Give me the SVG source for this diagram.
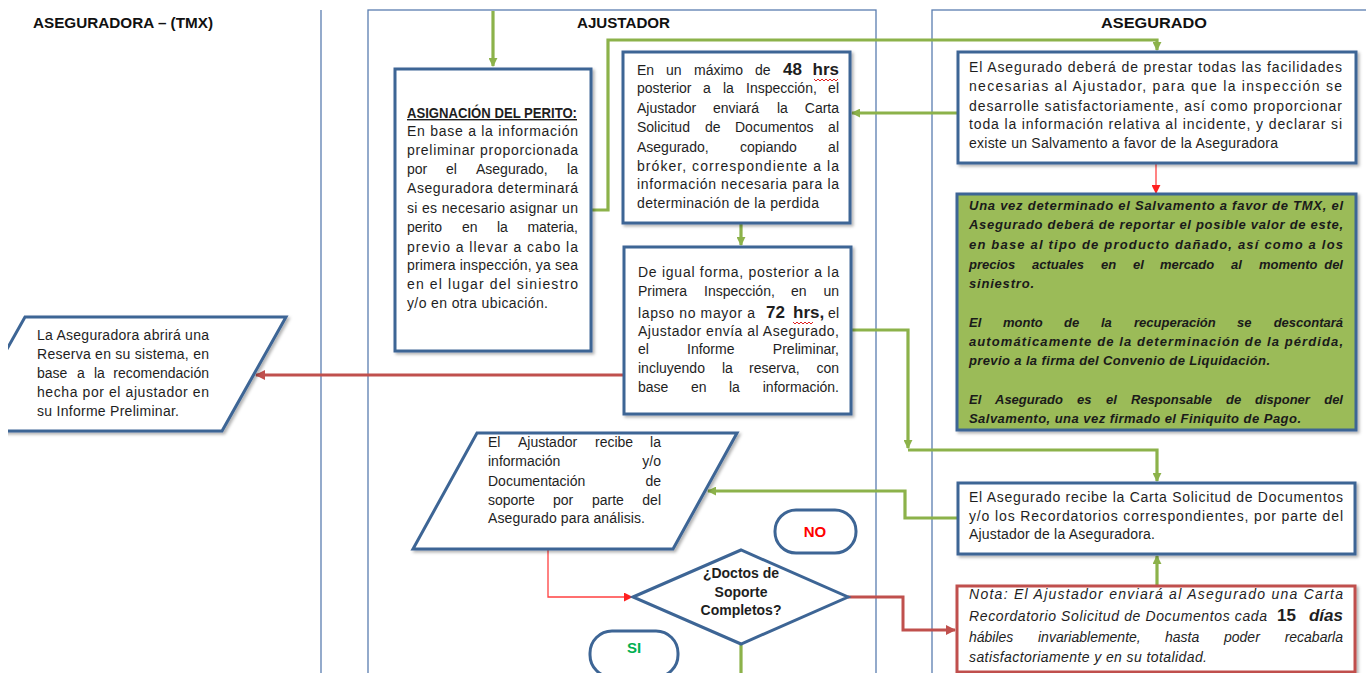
<svg xmlns="http://www.w3.org/2000/svg" width="1366" height="673" viewBox="0 0 1366 673">
<defs>
<style>
.lane{fill:none;stroke:#5a7db0;stroke-width:1.3}
.box{fill:#fff;stroke:#3d6595;stroke-width:3}
.g{fill:none;stroke:#8cb24a;stroke-width:3.2}
.r{fill:none;stroke:#c0504d;stroke-width:3}
.rt{fill:none;stroke:#ff4040;stroke-width:1.3}
.t{font-family:"Liberation Sans",Arial,sans-serif;font-size:14px;fill:#1e1e1e}
.h{font-family:"Liberation Sans",Arial,sans-serif;font-size:15px;font-weight:bold;fill:#111}
.b{font-weight:bold;font-size:17px}
.gi{font-family:"Liberation Sans",Arial,sans-serif;font-size:13px;font-weight:bold;font-style:italic;fill:#1a1a1a}
.it{font-family:"Liberation Sans",Arial,sans-serif;font-size:14px;font-style:italic;fill:#1e1e1e}
.e{text-anchor:end}
.wavy{fill:none;stroke:#e02020;stroke-width:1}
</style>
<marker id="ag" viewBox="0 0 10 10" refX="9" refY="5" markerWidth="9" markerHeight="9" markerUnits="userSpaceOnUse" orient="auto"><path d="M0,0L10,5L0,10z" fill="#8cb24a"/></marker>
<marker id="ar" viewBox="0 0 10 10" refX="9" refY="5" markerWidth="10" markerHeight="10" markerUnits="userSpaceOnUse" orient="auto"><path d="M0,0L10,5L0,10z" fill="#c0504d"/></marker>
<marker id="art" viewBox="0 0 10 10" refX="9" refY="5" markerWidth="9" markerHeight="9" markerUnits="userSpaceOnUse" orient="auto"><path d="M0,0L10,5L0,10z" fill="#ff2020"/></marker>
<filter id="sh" x="-5%" y="-5%" width="115%" height="115%"><feDropShadow dx="2" dy="2" stdDeviation="1.5" flood-color="#000" flood-opacity="0.3"/></filter>
<clipPath id="clipL"><rect x="8" y="0" width="400" height="673"/></clipPath>
</defs>
<rect width="1366" height="673" fill="#fff"/>

<g id="lanes">
<line class="lane" x1="321" y1="10" x2="321" y2="673"/>
<rect class="lane" x="368" y="10" width="508" height="700"/>
<rect class="lane" x="932" y="10" width="460" height="700"/>
<text class="h" x="33" y="28" textLength="180" lengthAdjust="spacingAndGlyphs">ASEGURADORA – (TMX)</text>
<text class="h" x="577" y="28" textLength="93" lengthAdjust="spacingAndGlyphs">AJUSTADOR</text>
<text class="h" x="1101" y="28" textLength="106" lengthAdjust="spacingAndGlyphs">ASEGURADO</text>
</g>

<g id="connectors">
<path class="g" d="M493,11V66" marker-end="url(#ag)"/>
<path class="g" d="M591,210H608V40H1157V50" marker-end="url(#ag)"/>
<path class="g" d="M958,113H852" marker-end="url(#ag)"/>
<path class="rt" d="M1156,164V193" marker-end="url(#art)"/>
<path class="g" d="M741,224V245" marker-end="url(#ag)"/>
<path class="g" d="M851,330H908V448" marker-end="url(#ag)"/>
<path class="g" d="M908,450H1157V481" marker-end="url(#ag)"/>
<path class="g" d="M958,518H905V491H708" marker-end="url(#ag)"/>
<path class="g" d="M1157,586V556" marker-end="url(#ag)"/>
<path class="r" d="M624,375H256" marker-end="url(#ar)"/>
<path class="rt" d="M548,550V597H632" marker-end="url(#art)"/>
<path class="r" d="M848,597H903V630H955" marker-end="url(#ar)"/>
<path class="g" d="M741,645V673"/>
</g>

<g id="asignacion">
<rect class="box" x="395" y="69" width="196" height="282" filter="url(#sh)"/>
<text class="t" x="407" y="118" font-weight="bold" text-decoration="underline" textLength="170" lengthAdjust="spacingAndGlyphs">ASIGNACIÓN DEL PERITO:</text>
<text class="t" x="407" y="136" textLength="171" lengthAdjust="spacing">En base a la información</text>
<text class="t" x="407" y="155" textLength="171" lengthAdjust="spacing">preliminar proporcionada</text>
<text class="t" y="174"><tspan x="407">por</tspan><tspan x="446">el</tspan><tspan x="476">Asegurado,</tspan><tspan x="578" class="e">la</tspan></text>
<text class="t" x="407" y="193" textLength="171" lengthAdjust="spacing">Aseguradora determinará</text>
<text class="t" x="407" y="213" textLength="171" lengthAdjust="spacing">si es necesario asignar un</text>
<text class="t" y="232"><tspan x="407">perito</tspan><tspan x="462">en</tspan><tspan x="497">la</tspan><tspan x="578" class="e">materia,</tspan></text>
<text class="t" x="407" y="252" textLength="171" lengthAdjust="spacing">previo a llevar a cabo la</text>
<text class="t" x="407" y="270" textLength="171" lengthAdjust="spacing">primera inspección, ya sea</text>
<text class="t" x="407" y="289" textLength="171" lengthAdjust="spacing">en el lugar del siniestro</text>
<text class="t" x="407" y="308" textLength="141" lengthAdjust="spacing">y/o en otra ubicación.</text>
</g>

<g id="carta48">
<rect class="box" x="623" y="52" width="227" height="171" filter="url(#sh)"/>
<text class="t" y="75"><tspan x="637">En</tspan><tspan x="666">un</tspan><tspan x="694">máximo</tspan><tspan x="755">de</tspan><tspan x="783" class="b">48</tspan><tspan x="839" class="b e">hrs</tspan></text>
<path class="wavy" d="M814,79l2,2l2,-2l2,2l2,-2l2,2l2,-2l2,2l2,-2l2,2l2,-2l2,2l2,-2"/>
<text class="t" y="93"><tspan x="637">posterior</tspan><tspan x="703">a</tspan><tspan x="723">la</tspan><tspan x="746">Inspección,</tspan><tspan x="839" class="e">el</tspan></text>
<text class="t" y="113"><tspan x="637">Ajustador</tspan><tspan x="713">enviará</tspan><tspan x="777">la</tspan><tspan x="839" class="e">Carta</tspan></text>
<text class="t" y="132"><tspan x="637">Solicitud</tspan><tspan x="705">de</tspan><tspan x="735">Documentos</tspan><tspan x="839" class="e">al</tspan></text>
<text class="t" y="152"><tspan x="637">Asegurado,</tspan><tspan x="740">copiando</tspan><tspan x="839" class="e">al</tspan></text>
<text class="t" x="637" y="171" textLength="202" lengthAdjust="spacing">bróker, correspondiente a la</text>
<text class="t" x="637" y="189" textLength="202" lengthAdjust="spacing">información necesaria para la</text>
<text class="t" x="637" y="208" textLength="182" lengthAdjust="spacing">determinación de la perdida</text>
</g>

<g id="informe72">
<rect class="box" x="624" y="247" width="227" height="167" filter="url(#sh)"/>
<text class="t" x="638" y="277" textLength="201" lengthAdjust="spacing">De igual forma, posterior a la</text>
<text class="t" y="296"><tspan x="638">Primera</tspan><tspan x="704">Inspección,</tspan><tspan x="791">en</tspan><tspan x="839" class="e">un</tspan></text>
<text class="t" y="318"><tspan x="638" textLength="117" lengthAdjust="spacing">lapso no mayor a</tspan><tspan x="766" class="b">72</tspan><tspan x="793" class="b">hrs,</tspan><tspan x="839" class="e">el</tspan></text>
<path class="wavy" d="M793,322l2,2l2,-2l2,2l2,-2l2,2l2,-2l2,2l2,-2l2,2l2,-2"/>
<text class="t" x="638" y="336" textLength="201" lengthAdjust="spacing">Ajustador envía al Asegurado,</text>
<text class="t" y="354"><tspan x="638">el</tspan><tspan x="687">Informe</tspan><tspan x="839" class="e">Preliminar,</tspan></text>
<text class="t" y="373"><tspan x="638">incluyendo</tspan><tspan x="722">la</tspan><tspan x="749">reserva,</tspan><tspan x="839" class="e">con</tspan></text>
<text class="t" y="392"><tspan x="638">base</tspan><tspan x="691">en</tspan><tspan x="729">la</tspan><tspan x="839" class="e">información.</tspan></text>
</g>

<g id="facilidades">
<rect class="box" x="958" y="52" width="398" height="111" filter="url(#sh)"/>
<text class="t" x="969" y="72" textLength="373" lengthAdjust="spacing">El Asegurado deberá de prestar todas las facilidades</text>
<text class="t" x="969" y="91" textLength="373" lengthAdjust="spacing">necesarias al Ajustador, para que la inspección se</text>
<text class="t" x="969" y="111" textLength="373" lengthAdjust="spacing">desarrolle satisfactoriamente, así como proporcionar</text>
<text class="t" x="969" y="129" textLength="373" lengthAdjust="spacing">toda la información relativa al incidente, y declarar si</text>
<text class="t" x="969" y="148" textLength="309" lengthAdjust="spacing">existe un Salvamento a favor de la Aseguradora</text>
</g>

<g id="salvamento">
<rect x="957" y="194" width="399" height="236" fill="#9bbb59" stroke="#3d6595" stroke-width="3" filter="url(#sh)"/>
<text class="gi" x="969" y="210" textLength="374" lengthAdjust="spacing">Una vez determinado el Salvamento a favor de TMX, el</text>
<text class="gi" x="969" y="229" textLength="374" lengthAdjust="spacing">Asegurado deberá de reportar el posible valor de este,</text>
<text class="gi" x="969" y="249" textLength="374" lengthAdjust="spacing">en base al tipo de producto dañado, así como a los</text>
<text class="gi" y="269"><tspan x="969">precios</tspan><tspan x="1032">actuales</tspan><tspan x="1101">en</tspan><tspan x="1133">el</tspan><tspan x="1160">mercado</tspan><tspan x="1231">al</tspan><tspan x="1259">momento</tspan><tspan x="1343" class="e">del</tspan></text>
<text class="gi" x="969" y="288" textLength="65" lengthAdjust="spacing">siniestro.</text>
<text class="gi" y="327"><tspan x="969">El</tspan><tspan x="1003">monto</tspan><tspan x="1064">de</tspan><tspan x="1101">la</tspan><tspan x="1134">recuperación</tspan><tspan x="1237">se</tspan><tspan x="1343" class="e">descontará</tspan></text>
<text class="gi" x="969" y="346" textLength="374" lengthAdjust="spacing">automáticamente de la determinación de la pérdida,</text>
<text class="gi" x="969" y="365" textLength="301" lengthAdjust="spacing">previo a la firma del Convenio de Liquidación.</text>
<text class="gi" y="404"><tspan x="969">El</tspan><tspan x="995">Asegurado</tspan><tspan x="1077">es</tspan><tspan x="1106">el</tspan><tspan x="1131">Responsable</tspan><tspan x="1226">de</tspan><tspan x="1255">disponer</tspan><tspan x="1343" class="e">del</tspan></text>
<text class="gi" x="969" y="423" textLength="332" lengthAdjust="spacing">Salvamento, una vez firmado el Finiquito de Pago.</text>
</g>

<g id="recibe-carta">
<rect class="box" x="958" y="483" width="397" height="71" filter="url(#sh)"/>
<text class="t" x="969" y="502" textLength="374" lengthAdjust="spacing">El Asegurado recibe la Carta Solicitud de Documentos</text>
<text class="t" x="969" y="521" textLength="374" lengthAdjust="spacing">y/o los Recordatorios correspondientes, por parte del</text>
<text class="t" x="969" y="539" textLength="186" lengthAdjust="spacing">Ajustador de la Aseguradora.</text>
</g>

<g id="nota">
<rect x="957" y="586" width="398" height="86" fill="#fff" stroke="#c0504d" stroke-width="3" filter="url(#sh)"/>
<text class="it" x="969" y="599" textLength="374" lengthAdjust="spacing">Nota: El Ajustador enviará al Asegurado una Carta</text>
<text class="it" y="621"><tspan x="969" textLength="298" lengthAdjust="spacing">Recordatorio Solicitud de Documentos cada</tspan><tspan x="1277" class="b" font-style="normal">15</tspan><tspan x="1343" class="b e">días</tspan></text>
<text class="it" y="642"><tspan x="969">hábiles</tspan><tspan x="1038">invariablemente,</tspan><tspan x="1165">hasta</tspan><tspan x="1224">poder</tspan><tspan x="1343" class="e">recabarla</tspan></text>
<text class="it" x="969" y="662" textLength="238" lengthAdjust="spacing">satisfactoriamente y en su totalidad.</text>
</g>

<g id="reserva">
<polygon points="25,317 286,317 222,431 -39,431" fill="#fff" stroke="#3d6595" stroke-width="3" clip-path="url(#clipL)" filter="url(#sh)"/>
<text class="t" x="37" y="340" textLength="172" lengthAdjust="spacing">La Aseguradora abrirá una</text>
<text class="t" x="37" y="359" textLength="172" lengthAdjust="spacing">Reserva en su sistema, en</text>
<text class="t" y="378"><tspan x="37">base</tspan><tspan x="77">a</tspan><tspan x="94">la</tspan><tspan x="209" class="e">recomendación</tspan></text>
<text class="t" x="37" y="397" textLength="172" lengthAdjust="spacing">hecha por el ajustador en</text>
<text class="t" x="37" y="416" textLength="142" lengthAdjust="spacing">su Informe Preliminar.</text>
</g>

<g id="recibe-info">
<polygon points="477,433 737,433 673,549 413,549" fill="#fff" stroke="#3d6595" stroke-width="3" filter="url(#sh)"/>
<text class="t" y="447"><tspan x="488">El</tspan><tspan x="518">Ajustador</tspan><tspan x="595">recibe</tspan><tspan x="661" class="e">la</tspan></text>
<text class="t" y="466"><tspan x="488">información</tspan><tspan x="661" class="e">y/o</tspan></text>
<text class="t" y="486"><tspan x="488">Documentación</tspan><tspan x="661" class="e">de</tspan></text>
<text class="t" y="505"><tspan x="488">soporte</tspan><tspan x="553">por</tspan><tspan x="592">parte</tspan><tspan x="661" class="e">del</tspan></text>
<text class="t" x="488" y="523" textLength="157" lengthAdjust="spacing">Asegurado para análisis.</text>
</g>

<g id="decision">
<polygon points="633,597 741,550 848,597 741,644" fill="#fff" stroke="#3d6595" stroke-width="3"/>
<text class="t" x="741" y="578" text-anchor="middle" font-weight="bold" font-size="13">¿Doctos de</text>
<text class="t" x="741" y="597" text-anchor="middle" font-weight="bold" font-size="13">Soporte</text>
<text class="t" x="741" y="615" text-anchor="middle" font-weight="bold" font-size="13">Completos?</text>
</g>

<g id="no">
<rect x="775" y="510" width="81" height="43" rx="21" fill="#fff" stroke="#3d6595" stroke-width="3"/>
<text x="815" y="537" text-anchor="middle" font-family="Liberation Sans, Arial, sans-serif" font-size="15" font-weight="bold" fill="#ff0000">NO</text>
</g>

<g id="si">
<rect x="590" y="631" width="88" height="46" rx="22" fill="#fff" stroke="#3d6595" stroke-width="3"/>
<text x="634" y="653" text-anchor="middle" font-family="Liberation Sans, Arial, sans-serif" font-size="15" font-weight="bold" fill="#00b050">SI</text>
</g>
</svg>
